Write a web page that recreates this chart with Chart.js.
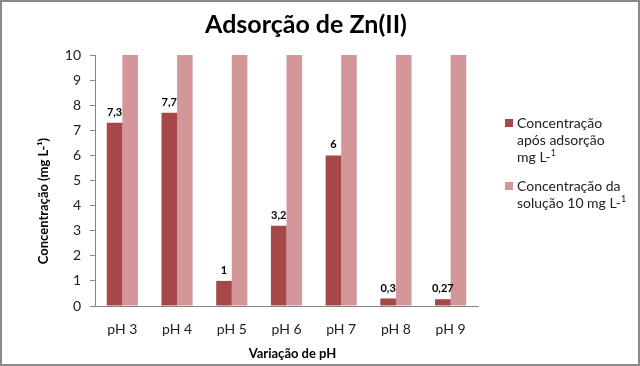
<!DOCTYPE html>
<html lang="pt">
<head>
<meta charset="UTF-8">
<title>Adsorção de Zn(II)</title>
<script src="https://cdn.jsdelivr.net/npm/chart.js"></script>
<style>
    body { margin: 0; background: #fff; }
    #wrap {
        position: relative; width: 640px; height: 366px;
        box-sizing: border-box; border: 2px solid #8a8a8a; background: #fff;
        font-family: Lato, "Open Sans", sans-serif;
    }
    #title {
        position: absolute; left: 0; width: 608px; top: 6px;
        text-align: center; font-weight: bold; font-size: 25px; color: #000;
    }
    #legend { position: absolute; left: 503px; top: 112px; font-size: 14px; color: #222; line-height: 17px; }
    .item { display: flex; margin-bottom: 12px; }
    .box { width: 8px; height: 8px; margin: 5px 4px 0 0; flex: none; }
    sup { font-size: 9px; line-height: 0; }
</style>
</head>
<body>
<div id="wrap">
    <div id="title">Adsorção de Zn(II)</div>
    <canvas id="barChart" width="636" height="362"></canvas>
    <div id="legend">
        <div class="item"><span class="box" style="background:#a6474a"></span><span>Concentração<br>após adsorção<br>mg L-<sup>1</sup></span></div>
        <div class="item"><span class="box" style="background:#d3979a"></span><span>Concentração da<br>solução 10 mg L-<sup>1</sup></span></div>
    </div>
</div>

<script type="text/javascript">
    // data
    const categories = ['pH 3', 'pH 4', 'pH 5', 'pH 6', 'pH 7', 'pH 8', 'pH 9'];
    const afterAdsorption = [7.3, 7.7, 1, 3.2, 6, 0.3, 0.27];
    const solution = [10, 10, 10, 10, 10, 10, 10];
    const yTicks = [0, 1, 2, 3, 4, 5, 6, 7, 8, 9, 10];

    const darkRed = '#a6474a';
    const lightRed = '#d3979a';

    // value labels above the dark bars, decimal comma
    const valueLabels = {
        id: 'valueLabels',
        afterDatasetsDraw(chart) {
            const ctx = chart.ctx;
            const meta = chart.getDatasetMeta(0);
            ctx.save();
            ctx.font = 'bold 11px Lato, sans-serif';
            ctx.fillStyle = '#000';
            ctx.textAlign = 'center';
            ctx.textBaseline = 'bottom';
            meta.data.forEach((bar, i) => {
                const txt = String(afterAdsorption[i]).replace('.', ',');
                ctx.fillText(txt, bar.x, bar.y - 5);
            });
            ctx.restore();
        }
    };

    // axis titles drawn where the original has them
    const axisTitles = {
        id: 'axisTitles',
        afterDraw(chart) {
            const ctx = chart.ctx;
            const area = chart.chartArea;
            ctx.save();
            ctx.fillStyle = '#000';
            ctx.font = 'bold 13px Lato, sans-serif';
            ctx.textAlign = 'center';
            ctx.textBaseline = 'middle';
            ctx.fillText('Variação de pH', (area.left + area.right) / 2 + 6, 352);
            ctx.translate(42, 199);
            ctx.rotate(-Math.PI / 2);
            ctx.fillText('Concentração (mg L-¹)', 0, 0);
            ctx.restore();
        }
    };

    const chart = new Chart(document.getElementById('barChart').getContext('2d'), {
        type: 'bar',
        data: {
            labels: categories,
            datasets: [
                { label: 'Concentração após adsorção mg L-¹', data: afterAdsorption, backgroundColor: darkRed },
                { label: 'Concentração da solução 10 mg L-¹', data: solution, backgroundColor: lightRed }
            ]
        },
        options: {
            responsive: false,
            animation: false,
            layout: { padding: { top: 53, right: 160, left: 0, bottom: 0 } },
            datasets: { bar: { categoryPercentage: 0.57, barPercentage: 1 } },
            scales: {
                x: {
                    grid: { display: false },
                    border: { color: '#868686', width: 1 },
                    ticks: { color: '#222', font: { family: 'Lato', size: 14 }, padding: 7 },
                    afterFit(scale) { scale.height = 58; }
                },
                y: {
                    min: 0, max: 10,
                    afterBuildTicks(scale) { scale.ticks = yTicks.map(v => ({ value: v })); },
                    grid: { drawOnChartArea: false, tickLength: 5, color: '#868686' },
                    border: { color: '#868686', width: 1 },
                    ticks: { color: '#222', font: { family: 'Lato', size: 14 }, padding: 9 },
                    afterFit(scale) { scale.width = 93; }
                }
            },
            plugins: {
                legend: { display: false },
                title: { display: false },
                tooltip: { enabled: false }
            }
        },
        plugins: [valueLabels, axisTitles]
    });
</script>
</body>
</html>
